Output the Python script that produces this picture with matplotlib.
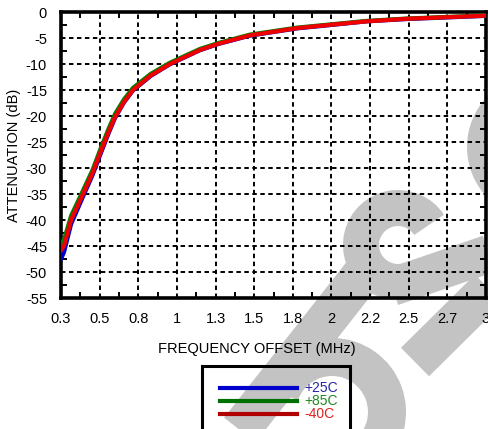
import matplotlib
matplotlib.use("Agg")
import matplotlib.pyplot as plt
from matplotlib.lines import Line2D
from matplotlib.patches import Rectangle, Arc
import numpy as np

plt.rcParams['font.family'] = ['Liberation Sans', 'DejaVu Sans']

# Frequency offset (MHz) and attenuation (dB) per temperature
freq = [0.30, 0.319, 0.364, 0.44, 0.50, 0.55, 0.60, 0.643, 0.70, 0.757, 0.87, 0.992, 1.183,
        1.30, 1.50, 1.80, 2.00, 2.24, 2.50, 2.75, 3.00]
att_25 = [-47.5, -46.2, -40.8, -35.5, -31.4, -27.4, -23.5, -20.4, -17.4, -15.1, -12.3, -10.05, -7.35,
          -6.15, -4.55, -3.15, -2.55, -1.8, -1.35, -1.05, -0.75]
att_85 = [-44.5, -43.8, -39.2, -34.3, -30.4, -26.4, -22.6, -19.6, -16.8, -14.6, -11.9, -9.75, -7.1,
          -5.95, -4.35, -3.0, -2.42, -1.72, -1.25, -0.95, -0.65]
att_m40 = [-45.8, -45.0, -40.0, -35.0, -31.0, -27.0, -23.2, -20.2, -17.3, -15.0, -12.2, -10.0, -7.3,
           -6.1, -4.5, -3.1, -2.5, -1.8, -1.3, -1.0, -0.7]

x_ticks = [0.3, 0.5, 0.8, 1, 1.3, 1.5, 1.8, 2, 2.2, 2.5, 2.7, 3]
y_ticks = [0, -5, -10, -15, -20, -25, -30, -35, -40, -45, -50, -55]

series = [
    ("+25C", att_25, "#0000cc", "#0000cc", "#2424a8"),
    ("+85C", att_85, "#008000", "#007000", "#1f8a1f"),
    ("-40C", att_m40, "#ee0000", "#b00000", "#e02020"),
]

W, H = 488, 429
GRAY = "#c3c3c3"
fig = plt.figure(figsize=(W / 100, H / 100), dpi=100)

# background watermark shapes, laid out in pixel units on a full-figure canvas
bg = fig.add_axes([0, 0, 1, 1], zorder=0)
bg.set_xlim(0, W)
bg.set_ylim(H, 0)
bg.axis("off")
px = 72 / 100  # points per pixel
stroke = dict(color=GRAY, solid_capstyle="butt")
bg.plot([228, 372], [445, 262], lw=40 * px, **stroke)          # long diagonal stem
bg.add_patch(Arc((332, 412), 110, 110, theta1=200, theta2=360 + 120,
                 color=GRAY, lw=38 * px))                       # lower bowl
bg.add_patch(Arc((398, 245), 74, 74, theta1=60, theta2=327,
                 color=GRAY, lw=36 * px))                       # open curve
bg.plot([392, 500], [287, 250], lw=38 * px, **stroke)          # curve's lower arm
bg.plot([415, 505], [362, 273], lw=40 * px, **stroke)          # right diagonal stroke
bg.add_patch(Arc((540, 147), 110, 110, color=GRAY, lw=36 * px))  # round letter at the edge

ax = fig.add_axes([61 / W, 1 - 298 / H, 425 / W, 286 / H])
ax.set_zorder(1)
ax.patch.set_alpha(0)

x0, x1 = 0.3, 3.0
pos = np.linspace(x0, x1, len(x_ticks))
ax.set_xlim(x0, x1)
ax.set_ylim(-55, 0)
ax.set_xticks(pos)
ax.set_xticklabels([f"{v:g}" for v in x_ticks])
ax.set_yticks(y_ticks)
ax.set_yticklabels([f"{v:g}" for v in y_ticks])
ax.set_xticks((pos[:-1] + pos[1:]) / 2, minor=True)
ax.set_yticks(np.arange(-52.5, 0, 5), minor=True)

ax.grid(True, which="major", color="black", linestyle=(0, (2.3, 1.8)), linewidth=1.4)
for s in ax.spines.values():
    s.set_linewidth(2.6)
ax.tick_params(which="both", direction="in", top=True, right=True, length=4, width=1.4,
               labelsize=10.5, pad=10)
ax.tick_params(which="major", length=0)

for name, vals, lc, legc, tc in series:
    ax.plot(freq, vals, color=lc, linewidth=3.0, solid_joinstyle="round", zorder=3)

fig.text(14 / W, 1 - 155 / H, "ATTENUATION (dB)", rotation=90, ha="center", va="center",
         fontsize=10.5, zorder=2)
fig.text(257 / W, 1 - 349 / H, "FREQUENCY OFFSET (MHz)", ha="center", va="center",
         fontsize=10.5, zorder=2)

# legend box below the plot
fig.patches.append(Rectangle((202 / W, -0.05), 148 / W, (429 - 366) / H + 0.05,
                             transform=fig.transFigure, fill=False, edgecolor="black",
                             linewidth=2.2, zorder=4))
rows = [388, 401, 414]
for (name, vals, lc, legc, tc), yr in zip(series, rows):
    fig.add_artist(Line2D([220 / W, 297 / W], [1 - yr / H, 1 - yr / H], color=legc,
                          linewidth=3, zorder=5))
    fig.text(304 / W, 1 - yr / H, name, color=tc, fontsize=10, ha="left", va="center", zorder=5)

fig.savefig("out.png", dpi=100)
